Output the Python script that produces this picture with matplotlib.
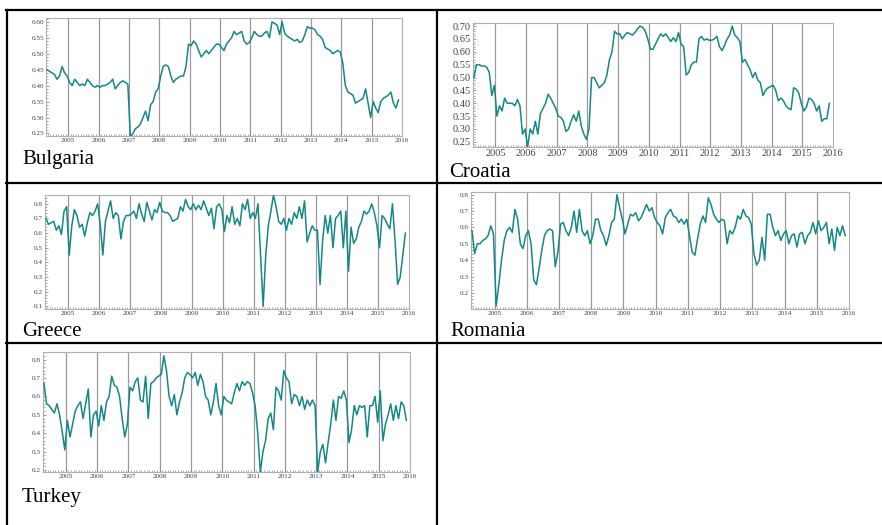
import numpy as np
import matplotlib
matplotlib.use("Agg")
import matplotlib.pyplot as plt
from matplotlib.lines import Line2D
from matplotlib.ticker import MultipleLocator, FixedLocator

plt.rcParams['font.family'] = ['Liberation Serif', 'DejaVu Serif']

# ---------------- data (monthly readings, first point ~ Apr 2004) ----------------
START = 2004.30
years = [2005, 2006, 2007, 2008, 2009, 2010, 2011, 2012, 2013, 2014, 2015, 2016]

bulgaria = [0.45, 0.445, 0.44, 0.435, 0.42, 0.43, 0.46, 0.44, 0.43,
            0.41, 0.40, 0.42, 0.41, 0.40, 0.405, 0.40, 0.42, 0.41, 0.40, 0.395, 0.40,
            0.395, 0.40, 0.40, 0.405, 0.41, 0.42, 0.39, 0.40, 0.41, 0.415, 0.41, 0.405,
            0.24, 0.25, 0.265, 0.27, 0.28, 0.30, 0.32, 0.29, 0.34, 0.35, 0.38, 0.39,
            0.43, 0.46, 0.465, 0.46, 0.43, 0.41, 0.42, 0.425, 0.43, 0.43, 0.46, 0.53,
            0.525, 0.54, 0.53, 0.51, 0.49, 0.50, 0.51, 0.50, 0.51, 0.52, 0.53, 0.53,
            0.52, 0.51, 0.53, 0.54, 0.55, 0.57, 0.56, 0.565, 0.57, 0.54, 0.53, 0.535,
            0.55, 0.57, 0.56, 0.555, 0.555, 0.565, 0.57, 0.55, 0.60, 0.595, 0.59, 0.56,
            0.60, 0.565, 0.555, 0.55, 0.545, 0.54, 0.545, 0.535, 0.54, 0.56, 0.585, 0.58,
            0.58, 0.575, 0.56, 0.555, 0.545, 0.52, 0.515, 0.51, 0.50, 0.505, 0.51, 0.505,
            0.47, 0.40, 0.38, 0.375, 0.37, 0.345, 0.35, 0.355, 0.36, 0.39, 0.345, 0.30,
            0.35, 0.33, 0.315, 0.35, 0.36, 0.365, 0.37, 0.38, 0.345, 0.33, 0.355]

croatia = [0.50, 0.55, 0.55, 0.545, 0.545, 0.54, 0.52, 0.43, 0.47,
           0.35, 0.39, 0.37, 0.42, 0.40, 0.40, 0.40, 0.39, 0.415, 0.39, 0.28, 0.30,
           0.23, 0.30, 0.28, 0.33, 0.28, 0.36, 0.38, 0.40, 0.435, 0.42, 0.40, 0.38,
           0.35, 0.345, 0.33, 0.29, 0.30, 0.33, 0.355, 0.33, 0.37, 0.31, 0.28, 0.26,
           0.30, 0.50, 0.50, 0.48, 0.46, 0.47, 0.48, 0.51, 0.57, 0.60, 0.68, 0.67,
           0.67, 0.65, 0.665, 0.675, 0.67, 0.665, 0.675, 0.69, 0.70, 0.695, 0.68, 0.65,
           0.61, 0.61, 0.63, 0.65, 0.67, 0.66, 0.67, 0.655, 0.64, 0.655, 0.64, 0.675,
           0.63, 0.62, 0.51, 0.52, 0.55, 0.56, 0.56, 0.65, 0.66, 0.645, 0.65, 0.645,
           0.645, 0.65, 0.66, 0.62, 0.605, 0.625, 0.65, 0.665, 0.70, 0.665, 0.655, 0.64,
           0.56, 0.57, 0.55, 0.53, 0.50, 0.52, 0.49, 0.48, 0.43, 0.45, 0.46, 0.465,
           0.47, 0.45, 0.41, 0.42, 0.41, 0.39, 0.38, 0.375, 0.46, 0.455, 0.44, 0.40,
           0.37, 0.385, 0.42, 0.415, 0.40, 0.37, 0.39, 0.33, 0.34, 0.34, 0.40]

greece = [0.70, 0.66, 0.67, 0.68, 0.62, 0.65, 0.59, 0.75, 0.78,
          0.45, 0.65, 0.76, 0.72, 0.64, 0.66, 0.58, 0.67, 0.74, 0.72, 0.75, 0.80,
          0.66, 0.45, 0.68, 0.75, 0.82, 0.70, 0.74, 0.72, 0.56, 0.68, 0.72, 0.72,
          0.73, 0.75, 0.70, 0.80, 0.73, 0.68, 0.81, 0.75, 0.69, 0.76, 0.74, 0.81,
          0.75, 0.74, 0.74, 0.72, 0.68, 0.69, 0.70, 0.78, 0.75, 0.83, 0.78, 0.76,
          0.80, 0.76, 0.79, 0.76, 0.82, 0.77, 0.72, 0.77, 0.63, 0.78, 0.80, 0.76,
          0.61, 0.72, 0.67, 0.78, 0.66, 0.70, 0.65, 0.80, 0.76, 0.83, 0.70, 0.74,
          0.70, 0.80, 0.45, 0.10, 0.45, 0.65, 0.75, 0.86, 0.78, 0.68, 0.66, 0.70,
          0.62, 0.70, 0.66, 0.74, 0.70, 0.78, 0.70, 0.82, 0.54, 0.60, 0.65, 0.62,
          0.62, 0.25, 0.55, 0.72, 0.60, 0.72, 0.50, 0.70, 0.72, 0.75, 0.50, 0.75,
          0.34, 0.64, 0.53, 0.56, 0.64, 0.68, 0.75, 0.73, 0.75, 0.80, 0.74, 0.65,
          0.50, 0.72, 0.70, 0.66, 0.63, 0.80, 0.55, 0.25, 0.30, 0.45, 0.60]

romania = [0.58, 0.44, 0.50, 0.50, 0.52, 0.53, 0.55, 0.61, 0.56,
           0.12, 0.25, 0.40, 0.52, 0.58, 0.60, 0.57, 0.71, 0.65, 0.50, 0.47, 0.55,
           0.58, 0.50, 0.28, 0.25, 0.35, 0.46, 0.55, 0.58, 0.59, 0.58, 0.36, 0.45,
           0.62, 0.63, 0.58, 0.55, 0.60, 0.70, 0.57, 0.71, 0.58, 0.55, 0.58, 0.50,
           0.55, 0.65, 0.65, 0.58, 0.55, 0.49, 0.55, 0.63, 0.65, 0.80, 0.72, 0.65,
           0.56, 0.62, 0.68, 0.67, 0.69, 0.64, 0.66, 0.70, 0.74, 0.70, 0.72, 0.66,
           0.63, 0.61, 0.56, 0.66, 0.69, 0.71, 0.67, 0.66, 0.63, 0.65, 0.62, 0.65,
           0.55, 0.45, 0.43, 0.53, 0.62, 0.67, 0.63, 0.78, 0.74, 0.68, 0.65, 0.63,
           0.65, 0.64, 0.50, 0.58, 0.56, 0.60, 0.67, 0.65, 0.71, 0.67, 0.66, 0.62,
           0.44, 0.37, 0.40, 0.54, 0.40, 0.68, 0.68, 0.60, 0.55, 0.58, 0.52, 0.56,
           0.58, 0.50, 0.55, 0.56, 0.48, 0.56, 0.57, 0.50, 0.55, 0.57, 0.63, 0.56,
           0.64, 0.58, 0.60, 0.63, 0.50, 0.59, 0.46, 0.60, 0.55, 0.61, 0.55]

turkey = [0.67, 0.56, 0.55, 0.53, 0.51, 0.56, 0.50, 0.41, 0.31,
          0.47, 0.38, 0.45, 0.52, 0.55, 0.57, 0.48, 0.56, 0.64, 0.38, 0.50, 0.52,
          0.44, 0.55, 0.47, 0.57, 0.60, 0.71, 0.66, 0.65, 0.60, 0.48, 0.38, 0.45,
          0.65, 0.63, 0.68, 0.70, 0.58, 0.57, 0.71, 0.48, 0.67, 0.68, 0.70, 0.71,
          0.72, 0.82, 0.74, 0.60, 0.55, 0.61, 0.50, 0.57, 0.62, 0.70, 0.73, 0.72,
          0.70, 0.73, 0.66, 0.72, 0.68, 0.60, 0.58, 0.50, 0.57, 0.67, 0.55, 0.50,
          0.60, 0.58, 0.57, 0.56, 0.62, 0.67, 0.63, 0.68, 0.66, 0.68, 0.67, 0.62,
          0.55, 0.40, 0.19, 0.30, 0.36, 0.48, 0.51, 0.42, 0.65, 0.63, 0.58, 0.74,
          0.70, 0.68, 0.56, 0.61, 0.60, 0.55, 0.60, 0.53, 0.58, 0.55, 0.58, 0.55,
          0.19, 0.30, 0.34, 0.24, 0.35, 0.45, 0.58, 0.47, 0.60, 0.59, 0.63, 0.58,
          0.35, 0.42, 0.55, 0.50, 0.55, 0.54, 0.55, 0.38, 0.55, 0.55, 0.60, 0.46,
          0.63, 0.36, 0.45, 0.50, 0.56, 0.47, 0.55, 0.48, 0.57, 0.55, 0.47]

names = ["Bulgaria", "Croatia", "Greece", "Romania", "Turkey"]
series = [bulgaria, croatia, greece, romania, turkey]
yticks = [[0.25, 0.30, 0.35, 0.40, 0.45, 0.50, 0.55, 0.60],
          [0.25, 0.30, 0.35, 0.40, 0.45, 0.50, 0.55, 0.60, 0.65, 0.70],
          [0.1, 0.2, 0.3, 0.4, 0.5, 0.6, 0.7, 0.8],
          [0.2, 0.3, 0.4, 0.5, 0.6, 0.7, 0.8],
          [0.2, 0.3, 0.4, 0.5, 0.6, 0.7, 0.8]]
ylims = [(0.242, 0.612), (0.23, 0.712), (0.082, 0.86), (0.102, 0.816), (0.19, 0.841)]
yfmt = ["%.2f", "%.2f", "%.1f", "%.1f", "%.1f"]

# ---------------- layout (pixels) ----------------
W, H = 882, 525
fig = plt.figure(figsize=(W / 100, H / 100), dpi=100)

axes_px = [(46, 18, 402, 136), (473, 23, 833, 147), (45, 195, 409, 309),
           (471, 192, 849, 309), (43, 352, 410, 472)]
label_px = [(22, 164), (449, 177), (22, 336), (450, 336), (22, 502)]
tick_fs = [5.2, 7.5, 5.2, 5.2, 5.2]
LINE_COLOR = "#168787"

for k, (nm, vals) in enumerate(zip(names, series)):
    l, t, r, b = axes_px[k]
    ax = fig.add_axes([l / W, 1 - b / H, (r - l) / W, (b - t) / H])
    x = START + np.arange(len(vals)) / 12.0
    for yr in years[:-1]:
        ax.axvline(yr, color="#9a9a9a", lw=0.9, zorder=1)
    ax.plot(x, vals, color=LINE_COLOR, lw=1.1, zorder=3)
    ax.set_xlim(2004.27, 2016.0)
    ax.set_ylim(*ylims[k])
    ax.xaxis.set_major_locator(FixedLocator(years))
    ax.set_xticklabels([str(y) for y in years])
    ax.xaxis.set_minor_locator(MultipleLocator(1 / 12))
    ax.set_yticks(yticks[k])
    ax.set_yticklabels([yfmt[k] % v for v in yticks[k]])
    step = yticks[k][1] - yticks[k][0]
    ax.yaxis.set_minor_locator(MultipleLocator(step / 5))
    ax.tick_params(axis="both", which="major", direction="in", length=2.5, width=0.6,
                   color="#888888", labelsize=tick_fs[k], labelcolor="#444444", pad=1.5)
    ax.tick_params(axis="both", which="minor", direction="in", length=1.3, width=0.5,
                   color="#888888")
    ax.tick_params(axis="x", which="both", top=False)
    ax.tick_params(axis="y", which="both", right=False)
    for sp in ax.spines.values():
        sp.set_color("#b0b0b0")
        sp.set_linewidth(0.8)
    ax.set_facecolor("white")
    lx, ly = label_px[k]
    fig.text(lx / W, 1 - ly / H, nm, fontsize=15, color="black", ha="left", va="baseline")

# ---------------- table grid lines ----------------
def hline(y, x0, x1):
    fig.add_artist(Line2D([x0 / W, x1 / W], [1 - y / H, 1 - y / H], color="black", lw=1.6))

def vline(x, y0, y1):
    fig.add_artist(Line2D([x / W, x / W], [1 - y0 / H, 1 - y1 / H], color="black", lw=1.6))

hline(10, 6, W)
hline(182.5, 6, W)
hline(342.5, 6, W)
vline(6.5, 10, H)
vline(436.5, 10, H)

fig.savefig("out.png", dpi=100, facecolor="white")
